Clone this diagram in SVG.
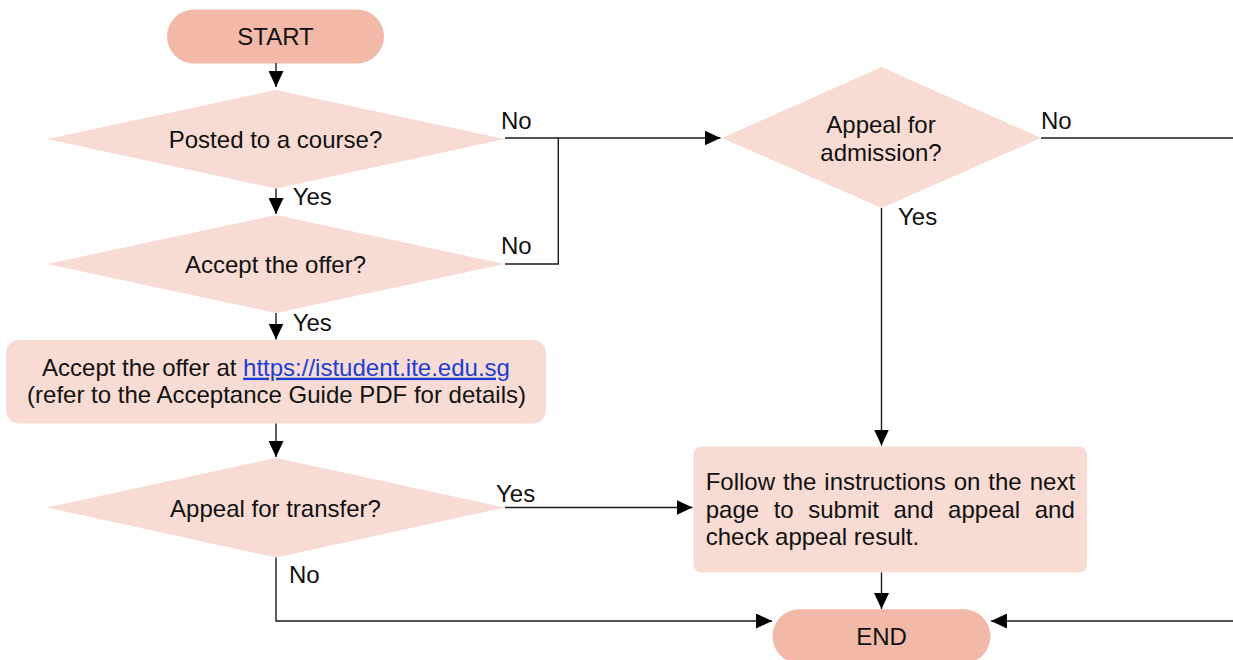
<svg xmlns="http://www.w3.org/2000/svg" width="1233" height="660" viewBox="0 0 1233 660">
  <style>
    text { font-family: "Liberation Sans", Arial, sans-serif; font-size: 24px; fill: #111; }
    .term { fill: #F2B9A8; }
    .dec { fill: #F8DBD3; }
    .proc { fill: #F8DBD3; }
    .link { fill: #1A3FD6; text-decoration: underline; }
    .c { fill: none; stroke: #1a1a1a; stroke-width: 1.4; }
    .mid { text-anchor: middle; }
  </style>
  <defs>
    <marker id="arr" viewBox="0 0 16 15" refX="16" refY="7.5" markerWidth="16" markerHeight="15" markerUnits="userSpaceOnUse" orient="auto">
      <path d="M0,0 L16,7.5 L0,15 Z" fill="#000"/>
    </marker>
  </defs>

  <rect width="1233" height="660" fill="#fff"/>

  <g id="start">
    <rect class="term" x="167" y="9.5" width="217" height="54" rx="27"/>
    <text class="mid" x="275.5" y="45">START</text>
  </g>

  <g id="posted">
    <polygon class="dec" points="276,90 505,139 276,188.5 47,139"/>
    <text class="mid" x="275.5" y="147.7">Posted to a course?</text>
  </g>

  <g id="accept-q">
    <polygon class="dec" points="276,215 505,264 276,313 47,264"/>
    <text class="mid" x="275.5" y="272.7">Accept the offer?</text>
  </g>

  <g id="accept-box">
    <rect class="proc" x="6" y="340" width="540" height="83.5" rx="13"/>
    <text class="mid" x="276" y="375.7">Accept the offer at <tspan class="link">https://istudent.ite.edu.sg</tspan></text>
    <text class="mid" x="276.5" y="403.3">(refer to the Acceptance Guide PDF for details)</text>
  </g>

  <g id="transfer">
    <polygon class="dec" points="276,458 505,507.5 276,557.5 47,507.5"/>
    <text class="mid" x="275.5" y="516.5">Appeal for transfer?</text>
  </g>

  <g id="admission">
    <polygon class="dec" points="881.5,67 1041,138 881.5,208 722,138"/>
    <text class="mid" x="881" y="133">Appeal for</text>
    <text class="mid" x="881" y="160.5">admission?</text>
  </g>

  <g id="follow">
    <rect class="proc" x="693.5" y="446.5" width="393.5" height="126" rx="8"/>
    <text x="705.7" y="490" style="word-spacing:1.3px">Follow the instructions on the next</text>
    <text x="705.7" y="517.6" style="word-spacing:7.9px">page to submit and appeal and</text>
    <text x="705.7" y="545.2">check appeal result.</text>
  </g>

  <g id="end">
    <rect class="term" x="772.5" y="609.3" width="218" height="54" rx="27"/>
    <text class="mid" x="881.5" y="645">END</text>
  </g>

  <g id="connectors">
    <path class="c" d="M276,63 V87" marker-end="url(#arr)"/>
    <path class="c" d="M276,188.5 V214" marker-end="url(#arr)"/>
    <path class="c" d="M505,138 H720.5" marker-end="url(#arr)"/>
    <path class="c" d="M505,264 H558.3 V138"/>
    <path class="c" d="M276,313 V339.5" marker-end="url(#arr)"/>
    <path class="c" d="M276,423.5 V457" marker-end="url(#arr)"/>
    <path class="c" d="M505,507.5 H692.5" marker-end="url(#arr)"/>
    <path class="c" d="M276,557.5 V621 H772" marker-end="url(#arr)"/>
    <path class="c" d="M881.5,208 V445.5" marker-end="url(#arr)"/>
    <path class="c" d="M1041,138 H1233"/>
    <path class="c" d="M881.5,572.5 V609" marker-end="url(#arr)"/>
    <path class="c" d="M1233,621 H991" marker-end="url(#arr)"/>

    <text x="501" y="129">No</text>
    <text x="501" y="253.5">No</text>
    <text x="292.7" y="205">Yes</text>
    <text x="292.7" y="331">Yes</text>
    <text x="1041" y="129">No</text>
    <text x="898" y="225">Yes</text>
    <text x="496" y="502">Yes</text>
    <text x="289" y="583">No</text>
  </g>
</svg>
